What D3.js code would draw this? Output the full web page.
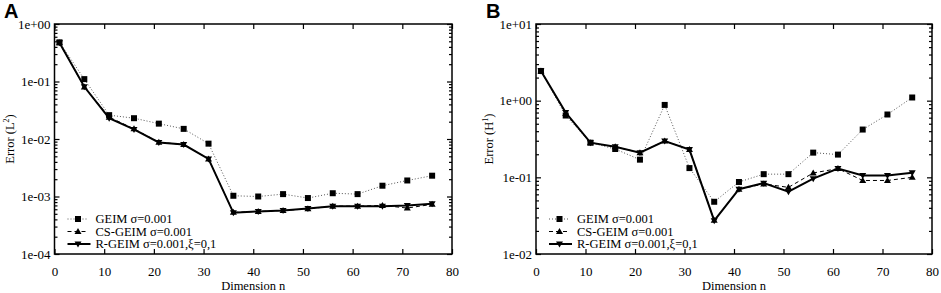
<!DOCTYPE html>
<html>
<head>
<meta charset="utf-8">
<script src="https://d3js.org/d3.v7.min.js"></script>
<style>
  body { margin: 0; background: #fff; }
  svg text { font-family: "Liberation Serif", "Times New Roman", Times, "DejaVu Serif", serif; }
  svg text.letter { font-family: "Liberation Sans", Arial, sans-serif; font-weight: bold; }
</style>
</head>
<body>
<svg width="941" height="293"></svg>
<script>
// dimension n
var dims = [1, 6, 11, 16, 21, 26, 31, 36, 41, 46, 51, 56, 61, 66, 71, 76];
var xTicks = [0, 10, 20, 30, 40, 50, 60, 70, 80];

// panel A, L2 error
var aGeim = [0.48, 0.11, 0.026, 0.023, 0.0185, 0.015, 0.0083, 0.00103, 0.001, 0.0011, 0.00094, 0.00114, 0.0011, 0.00154, 0.0019, 0.0023];
var aCs   = [0.47, 0.08, 0.024, 0.015, 0.0088, 0.008, 0.0045, 0.00053, 0.00055, 0.00057, 0.00061, 0.00068, 0.00068, 0.0007, 0.00063, 0.00073];
var aR    = [0.47, 0.081, 0.023, 0.0147, 0.0087, 0.008, 0.0045, 0.00052, 0.00055, 0.00057, 0.00062, 0.00068, 0.00068, 0.00068, 0.0007, 0.00075];

// panel B, H1 error
var bGeim = [2.44, 0.64, 0.283, 0.234, 0.17, 0.88, 0.132, 0.048, 0.087, 0.11, 0.11, 0.21, 0.198, 0.42, 0.66, 1.1];
var bCs   = [2.44, 0.68, 0.283, 0.25, 0.21, 0.298, 0.23, 0.0275, 0.07, 0.082, 0.074, 0.114, 0.13, 0.091, 0.091, 0.10];
var bR    = [2.44, 0.70, 0.283, 0.25, 0.21, 0.298, 0.23, 0.0272, 0.07, 0.084, 0.065, 0.096, 0.13, 0.106, 0.106, 0.115];

var legendNames = ["GEIM σ=0.001", "CS-GEIM σ=0.001", "R-GEIM σ=0.001,ξ=0,1"];

var svg = d3.select("svg");

var fmt = function(v) {
  var e = Math.round(Math.log10(v));
  return "1e" + (e < 0 ? "-" : "+") + String(Math.abs(e)).padStart(2, "0");
};

var styles = [
  {stroke: "#555", width: 1, dash: "1,2", marker: "square"},
  {stroke: "#000", width: 1, dash: "4,3", marker: "up"},
  {stroke: "#000", width: 2, dash: null, marker: "down"}
];

function markerPath(type) {
  if (type == "square") return "M-3,-3L3,-3L3,3L-3,3Z";
  if (type == "up") return "M0,-3.5L3.5,2.5L-3.5,2.5Z";
  return "M0,3.5L3.5,-2.5L-3.5,-2.5Z";
}

function drawPanel(p) {
  var g = svg.append("g");
  var x = d3.scaleLinear().domain([0, 80]).range([p.left, p.right]);
  var y = d3.scaleLog().domain(p.yDomain).range([p.bottom, p.top]);

  var lo = Math.round(Math.log10(p.yDomain[0])), hi = Math.round(Math.log10(p.yDomain[1]));
  var majors = [], minors = [];
  for (var e = lo; e <= hi; e++) {
    majors.push(Math.pow(10, e));
    if (e < hi) for (var k = 2; k <= 9; k++) minors.push(k * Math.pow(10, e));
  }

  // axes, ticks drawn inward
  g.append("g").attr("transform", "translate(" + p.left + ",0)")
    .call(d3.axisLeft(y).tickValues(majors).tickFormat(fmt).tickSize(-5).tickPadding(4));
  g.append("g").attr("transform", "translate(" + p.left + ",0)")
    .call(d3.axisLeft(y).tickValues(minors).tickFormat("").tickSize(-3));
  g.append("g").attr("transform", "translate(" + p.right + ",0)")
    .call(d3.axisRight(y).tickValues(majors).tickFormat("").tickSize(-5));
  g.append("g").attr("transform", "translate(" + p.right + ",0)")
    .call(d3.axisRight(y).tickValues(minors).tickFormat("").tickSize(-3));
  g.append("g").attr("transform", "translate(0," + p.bottom + ")")
    .call(d3.axisBottom(x).tickValues(xTicks).tickSize(-5).tickPadding(13));
  g.append("g").attr("transform", "translate(0," + p.top + ")")
    .call(d3.axisTop(x).tickValues(xTicks).tickFormat("").tickSize(-5));

  g.selectAll(".domain").remove();
  g.selectAll(".tick line").attr("stroke", "#000").attr("stroke-width", 1.2);
  g.selectAll(".tick text").style("font-size", "13px").attr("fill", "#000");

  g.append("rect")
    .attr("x", p.left).attr("y", p.top)
    .attr("width", p.right - p.left).attr("height", p.bottom - p.top)
    .attr("fill", "none").attr("stroke", "#000").attr("stroke-width", 1.5);

  // series
  var line = d3.line().x(function(d) { return x(d[0]); }).y(function(d) { return y(d[1]); });
  p.series.forEach(function(vals, i) {
    var st = styles[i];
    var pts = dims.map(function(d, j) { return [d, vals[j]]; });
    g.append("path").datum(pts)
      .attr("d", line)
      .attr("fill", "none")
      .attr("stroke", st.stroke)
      .attr("stroke-width", st.width)
      .attr("stroke-dasharray", st.dash);
    g.selectAll(".m" + i).data(pts).enter().append("path")
      .attr("class", "m" + i)
      .attr("transform", function(d) { return "translate(" + x(d[0]) + "," + y(d[1]) + ")"; })
      .attr("d", markerPath(st.marker))
      .attr("fill", "#000");
  });

  // legend
  var ly = [219, 231.5, 244];
  legendNames.forEach(function(name, i) {
    var st = styles[i];
    var x0 = p.left + 13, x1 = p.left + (i == 2 ? 36 : 33);
    g.append("line")
      .attr("x1", x0).attr("x2", x1).attr("y1", ly[i]).attr("y2", ly[i])
      .attr("stroke", st.stroke).attr("stroke-width", st.width)
      .attr("stroke-dasharray", st.dash);
    g.append("path")
      .attr("transform", "translate(" + (p.left + 23.5) + "," + ly[i] + ")")
      .attr("d", markerPath(st.marker)).attr("fill", "#000");
    g.append("text")
      .attr("x", p.left + 41).attr("y", ly[i]).attr("dy", "0.33em")
      .style("font-size", "12.5px").text(name);
  });

  // axis titles
  g.append("text")
    .attr("x", (p.left + p.right) / 2).attr("y", 290)
    .attr("text-anchor", "middle").style("font-size", "12.5px")
    .text("Dimension n");

  var yt = g.append("text")
    .attr("transform", "translate(" + p.yTitleX + "," + ((p.top + p.bottom) / 2) + ") rotate(-90)")
    .attr("text-anchor", "middle").attr("dy", "0.35em").style("font-size", "12.5px");
  yt.append("tspan").text("Error (" + p.norm);
  yt.append("tspan").attr("dy", "-5").style("font-size", "8px").text(p.sup);
  yt.append("tspan").attr("dy", "5").text(")");

  svg.append("text").attr("class", "letter")
    .attr("x", p.letterX).attr("y", 18)
    .style("font-size", "20px")
    .text(p.letter);
}

drawPanel({left: 54.5, right: 452, top: 24, bottom: 254, yDomain: [1e-4, 1],
  series: [aGeim, aCs, aR], norm: "L", sup: "2", yTitleX: 10, letter: "A", letterX: 4});
drawPanel({left: 536, right: 932, top: 24, bottom: 254, yDomain: [1e-2, 10],
  series: [bGeim, bCs, bR], norm: "H", sup: "1", yTitleX: 489, letter: "B", letterX: 486});
</script>
</body>
</html>
